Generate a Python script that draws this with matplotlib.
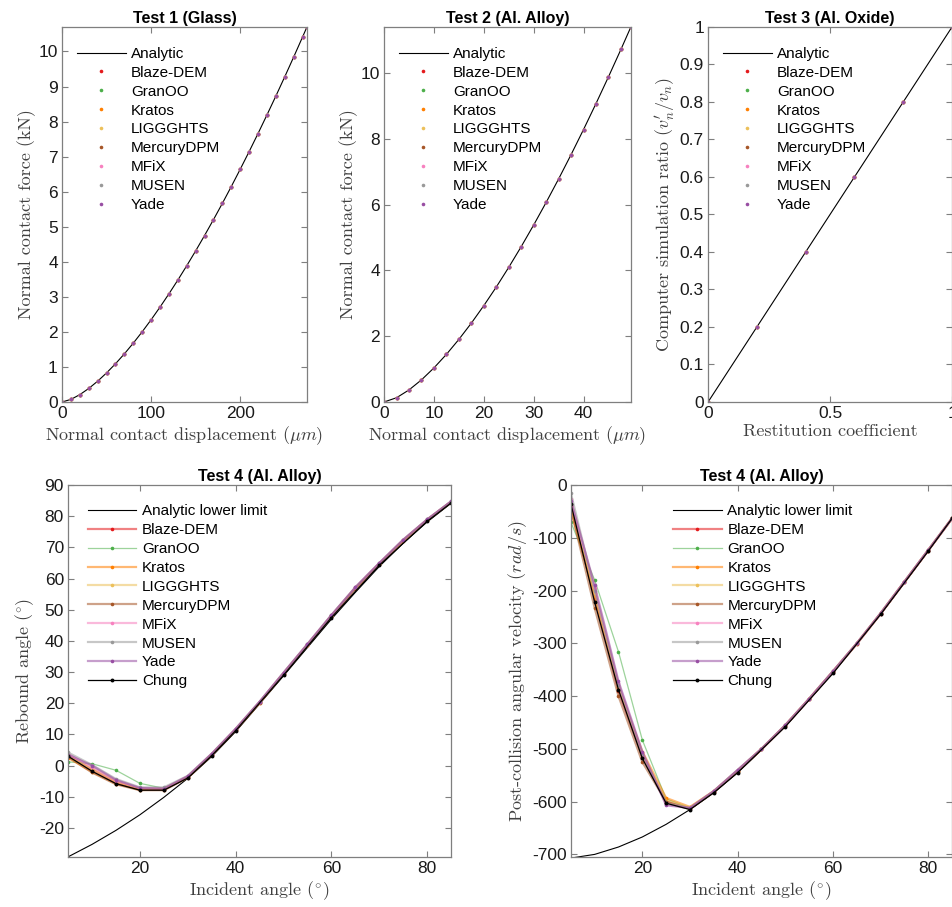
import matplotlib
matplotlib.use("Agg")
import matplotlib.pyplot as plt

plt.rcParams['font.family'] = ['Liberation Sans', 'DejaVu Sans']
plt.rcParams['mathtext.fontset'] = 'cm'
plt.rcParams['axes.unicode_minus'] = False

# nombres y colores de cada codigo
codigos = ["Blaze-DEM", "GranOO", "Kratos", "LIGGGHTS", "MercuryDPM", "MFiX", "MUSEN", "Yade"]
colores = ["#e41a1c", "#4daf4a", "#ff7f00", "#ecc05a", "#a65628", "#f781bf", "#999999", "#984ea3"]

# test 1 (vidrio): desplazamiento (um) y fuerza (kN)
desp1 = [0, 10, 20, 30, 40, 50, 60, 70, 80, 90, 100, 110, 120, 130, 140, 150, 160, 170,
         180, 190, 200, 210, 220, 230, 240, 250, 260, 270, 275]
fuerza1 = [0, 0.074, 0.21, 0.386, 0.594, 0.83, 1.09, 1.374, 1.679, 2.003, 2.346, 2.707, 3.085,
           3.478, 3.887, 4.31, 4.749, 5.201, 5.666, 6.145, 6.637, 7.14, 7.656, 8.185, 8.724,
           9.275, 9.837, 10.41, 10.7]

# test 2 (aleacion de aluminio)
desp2 = [0, 2.5, 5, 7.5, 10, 12.5, 15, 17.5, 20, 22.5, 25, 27.5, 30, 32.5, 35, 37.5, 40,
         42.5, 45, 47.5, 49.5]
fuerza2 = [0, 0.129, 0.366, 0.672, 1.035, 1.447, 1.902, 2.396, 2.928, 3.493, 4.092, 4.721,
           5.379, 6.065, 6.778, 7.517, 8.281, 9.07, 9.882, 10.716, 11.4]

# test 3 (oxido de aluminio)
restitucion = [0, 0.2, 0.4, 0.6, 0.8, 1.0]
ratio3 = [0, 0.2, 0.4, 0.6, 0.8, 1.0]

# test 4: angulo de incidencia
angulos = [5, 10, 15, 20, 25, 30, 35, 40, 45, 50, 55, 60, 65, 70, 75, 80, 85]
angulos_chung = [5, 10, 15, 20, 25, 30, 35, 40, 50, 60, 70, 80, 85]

rebote_analitico = [-29.3, -25.3, -20.8, -15.8, -10.2, -4.1, 2.9, 10.9, 19.8, 28.8, 37.9,
                    47.0, 55.6, 63.9, 71.4, 78.2, 84.2]
rebote = {
    "Blaze-DEM": [3.2, -1.2, -5.3, -7.6, -7.6, -3.7, 3.6, 11.6, 20.3, 29.6, 38.8, 48.1, 57.0, 64.8, 72.3, 78.9, 84.7],
    "GranOO": [1.2, 0.6, -1.5, -5.7, -7.3, -3.5, 3.7, 11.7, 20.4, 29.7, 38.9, 48.2, 57.1, 64.9, 72.4, 79.0, 84.8],
    "Kratos": [2.5, -2.0, -5.8, -7.8, -7.8, -3.8, 3.5, 11.5, 20.2, 29.5, 38.7, 48.0, 56.9, 64.7, 72.2, 78.8, 84.6],
    "LIGGGHTS": [3.0, -1.0, -5.0, -7.5, -7.5, -3.6, 3.6, 11.6, 20.3, 29.6, 38.8, 48.1, 57.0, 64.8, 72.3, 78.9, 84.7],
    "MercuryDPM": [2.8, -2.2, -6.0, -7.9, -7.9, -3.9, 3.4, 11.4, 20.1, 29.4, 38.6, 47.9, 56.8, 64.6, 72.1, 78.7, 84.5],
    "MFiX": [3.8, -0.5, -4.8, -7.2, -7.4, -3.4, 3.8, 11.8, 20.5, 29.8, 39.0, 48.3, 57.2, 65.0, 72.5, 79.0, 84.8],
    "MUSEN": [4.2, 0.2, -4.3, -7.0, -7.0, -3.3, 3.8, 11.8, 20.5, 29.8, 39.0, 48.3, 57.2, 65.0, 72.5, 79.0, 84.8],
    "Yade": [3.5, 0.0, -4.6, -7.2, -7.4, -3.4, 3.8, 11.8, 20.5, 29.8, 39.0, 48.3, 57.2, 65.0, 72.5, 79.0, 84.8],
}
rebote_chung = [3.0, -1.8, -5.8, -7.9, -7.9, -4.0, 3.2, 11.2, 29.0, 47.5, 64.3, 78.4, 84.3]

omega_analitico = [-707, -700, -686, -667, -643, -615, -583, -545, -502, -457, -407, -355,
                   -300, -245, -185, -125, -63]
omega = {
    "Blaze-DEM": [-40, -215, -390, -515, -600, -613, -581, -542, -501, -456, -406, -354, -301, -244, -184, -124, -63],
    "GranOO": [-70, -180, -316, -483, -595, -612, -580, -541, -500, -455, -405, -353, -300, -243, -183, -123, -63],
    "Kratos": [-48, -210, -383, -505, -593, -610, -580, -541, -500, -455, -405, -353, -300, -243, -183, -123, -63],
    "LIGGGHTS": [-45, -205, -380, -510, -598, -611, -580, -541, -500, -455, -405, -353, -300, -243, -183, -123, -63],
    "MercuryDPM": [-45, -233, -400, -525, -600, -614, -582, -543, -501, -456, -406, -354, -301, -244, -184, -124, -63],
    "MFiX": [-27, -195, -375, -508, -605, -612, -580, -540, -500, -455, -405, -353, -300, -243, -183, -123, -63],
    "MUSEN": [-15, -200, -378, -510, -603, -612, -580, -540, -500, -455, -405, -353, -300, -243, -183, -123, -63],
    "Yade": [-30, -190, -372, -505, -607, -612, -580, -540, -500, -455, -405, -353, -300, -243, -183, -123, -63],
}
omega_chung = [-35, -222, -388, -518, -603, -615, -583, -545, -458, -357, -245, -125, -63]

GRIS = "#7f7f7f"
ETIQ = "#404040"
serif = dict(family='cmr10', fontsize=13, color=ETIQ)

fig = plt.figure(figsize=(9.53, 9.07), dpi=100)


def preparar(ax, titulo):
    ax.set_title(titulo, fontsize=11.5, fontweight='bold', pad=3)
    ax.tick_params(direction='in', top=True, right=True, labelsize=12.5, length=4,
                   color=GRIS, labelcolor='#1a1a1a', pad=3)
    for s in ax.spines.values():
        s.set_color(GRIS)
        s.set_linewidth(0.9)


def leyenda(ax, ancla):
    ax.legend(loc='upper left', frameon=False, fontsize=11, handlelength=3.2,
              labelspacing=0.32, handletextpad=0.35, borderaxespad=0.0,
              bbox_to_anchor=ancla)


# fila superior
ax1 = fig.add_axes([0.0651, 0.5568, 0.257, 0.4135])
ax1.plot(desp1, fuerza1, color='k', lw=0.8, label="Analytic")
for nom, col in zip(codigos, colores):
    ax1.plot(desp1, fuerza1, 'o', ms=2.6, mec='none', mfc=col, label=nom)
ax1.set_xlim(0, 275)
ax1.set_ylim(0, 10.7)
ax1.set_xticks([0, 100, 200])
ax1.set_yticks(range(0, 11))
preparar(ax1, "Test 1 (Glass)")
ax1.set_xlabel(r"Normal contact displacement ($\mu m$)", labelpad=2, **serif)
ax1.set_ylabel("Normal contact force (kN)", labelpad=2, **serif)
leyenda(ax1, (0.035, 0.963))

ax2 = fig.add_axes([0.403, 0.5568, 0.259, 0.4135])
ax2.plot(desp2, fuerza2, color='k', lw=0.8, label="Analytic")
for nom, col in zip(codigos, colores):
    ax2.plot(desp2, fuerza2, 'o', ms=2.6, mec='none', mfc=col, label=nom)
ax2.set_xlim(0, 49.5)
ax2.set_ylim(0, 11.4)
ax2.set_xticks([0, 10, 20, 30, 40])
ax2.set_yticks([0, 2, 4, 6, 8, 10])
preparar(ax2, "Test 2 (Al. Alloy)")
ax2.set_xlabel(r"Normal contact displacement ($\mu m$)", labelpad=2, **serif)
ax2.set_ylabel("Normal contact force (kN)", labelpad=2, **serif)
leyenda(ax2, (0.035, 0.963))

ax3 = fig.add_axes([0.743, 0.5568, 0.256, 0.4135])
ax3.plot(restitucion, ratio3, color='k', lw=0.8, label="Analytic")
for nom, col in zip(codigos, colores):
    ax3.plot(restitucion, ratio3, 'o', ms=2.6, mec='none', mfc=col, label=nom)
ax3.set_xlim(0, 1)
ax3.set_ylim(0, 1)
ax3.set_xticks([0, 0.5, 1])
ax3.set_xticklabels(["0", "0.5", "1"])
ax3.set_yticks([i / 10 for i in range(11)])
ax3.set_yticklabels(["0"] + [f"0.{i}" for i in range(1, 10)] + ["1"])
preparar(ax3, "Test 3 (Al. Oxide)")
ax3.set_xlabel("Restitution coefficient", labelpad=2, **serif)
ax3.set_ylabel(r"Computer simulation ratio ($v_n'/v_n$)", labelpad=2, **serif)
leyenda(ax3, (0.035, 0.963))


# fila inferior
def test4(ax, analitico, datos, chung):
    ax.plot(angulos, analitico, color='k', lw=0.8, label="Analytic lower limit")
    for nom, col in zip(codigos, colores):
        rgba = matplotlib.colors.to_rgba(col, 0.55)
        ax.plot(angulos, datos[nom], '-o', color=rgba, lw=1.6 if nom != "GranOO" else 0.9,
                ms=2.6, mfc=col, mec='none', label=nom)
    ax.plot(angulos_chung, chung, '-o', color='k', lw=0.9, ms=2.8, mec='none', label="Chung")
    ax.set_xlim(5, 85)
    ax.set_xticks([20, 40, 60, 80])


ax4 = fig.add_axes([0.0714, 0.0551, 0.402, 0.410])
test4(ax4, rebote_analitico, rebote, rebote_chung)
ax4.set_ylim(-29.35, 90)
ax4.set_yticks(range(-20, 91, 10))
preparar(ax4, "Test 4 (Al. Alloy)")
ax4.set_xlabel(r"Incident angle ($^{\circ}$)", labelpad=2, **serif)
ax4.set_ylabel(r"Rebound angle ($^{\circ}$)", labelpad=2, **serif)
leyenda(ax4, (0.035, 0.965))

ax5 = fig.add_axes([0.599, 0.0551, 0.400, 0.410])
test4(ax5, omega_analitico, omega, omega_chung)
ax5.set_ylim(-705, 0)
ax5.set_yticks(range(-700, 1, 100))
preparar(ax5, "Test 4 (Al. Alloy)")
ax5.set_xlabel(r"Incident angle ($^{\circ}$)", labelpad=2, **serif)
ax5.set_ylabel(r"Post-collision angular velocity ($rad/s$)", labelpad=2, **serif)
leyenda(ax5, (0.252, 0.965))

fig.savefig("out.png", dpi=100)
